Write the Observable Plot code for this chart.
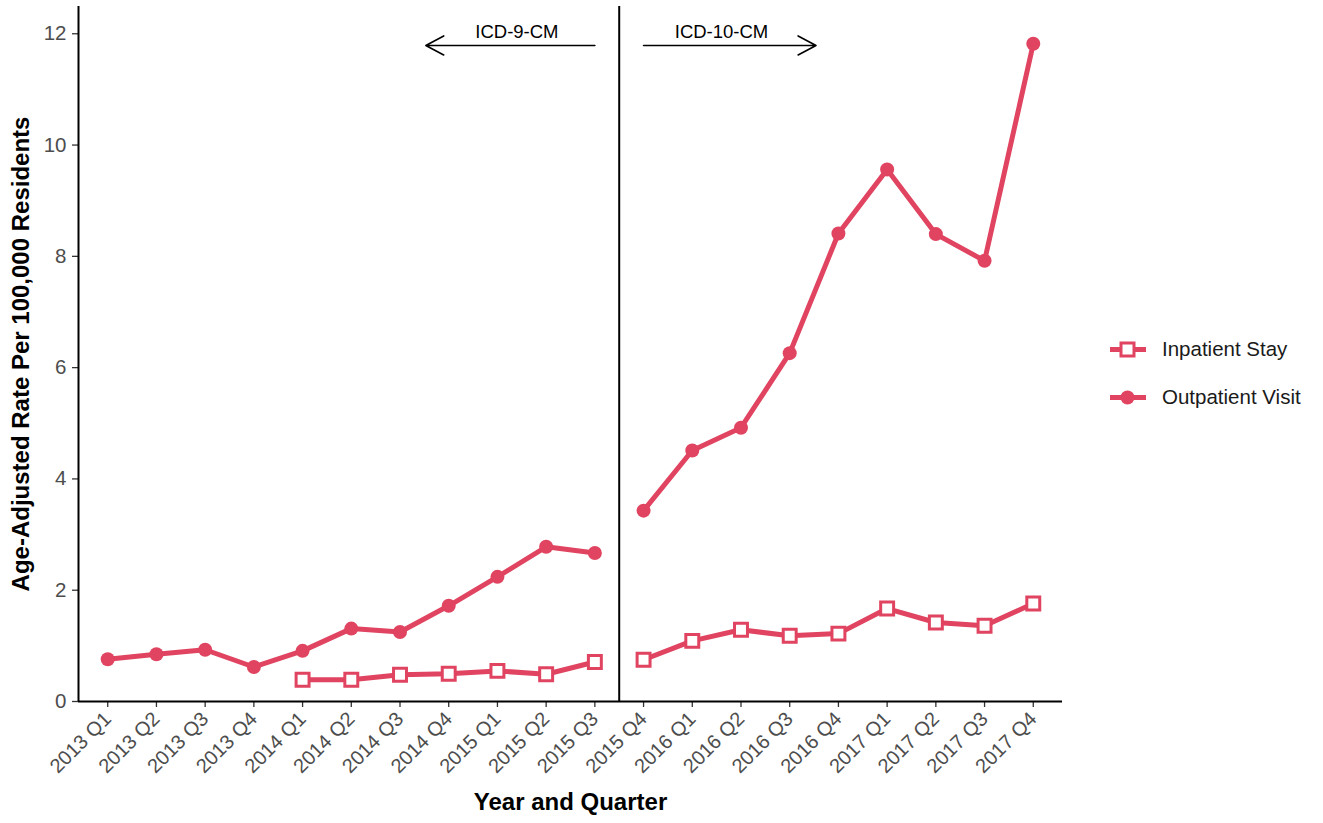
<!DOCTYPE html>
<html>
<head>
<meta charset="utf-8">
<script src="https://cdn.jsdelivr.net/npm/d3@7"></script>
<script src="https://cdn.jsdelivr.net/npm/@observablehq/plot@0.6"></script>
<style>
  html, body { margin: 0; padding: 0; background: #fff; }
  #wrap { position: relative; width: 1323px; height: 823px; font-family: "Liberation Sans", Arial, sans-serif; }
  #legend { position: absolute; left: 1108px; top: 334px; font-size: 20.5px; color: #1a1a1a; }
  .item { display: flex; align-items: center; height: 30px; margin-bottom: 18px; }
  .item svg { margin-right: 14px; }
</style>
</head>
<body>
<div id="wrap"><div id="chart"></div><div id="legend"></div></div>
<script>
const quarters = ["2013 Q1","2013 Q2","2013 Q3","2013 Q4","2014 Q1","2014 Q2","2014 Q3","2014 Q4",
  "2015 Q1","2015 Q2","2015 Q3","2015 Q4","2016 Q1","2016 Q2","2016 Q3","2016 Q4",
  "2017 Q1","2017 Q2","2017 Q3","2017 Q4"];
const outpatient = [0.76,0.85,0.93,0.62,0.91,1.31,1.25,1.72,2.24,2.78,2.67,
  3.43,4.51,4.92,6.26,8.41,9.56,8.40,7.92,11.82];
const inpatient = [null,null,null,null,0.39,0.39,0.48,0.50,0.55,0.49,0.71,
  0.75,1.09,1.29,1.18,1.22,1.67,1.42,1.36,1.76];
const codingEra = quarters.map((q, i) => i <= 10 ? "ICD-9-CM" : "ICD-10-CM");
const seriesNames = ["Inpatient Stay", "Outpatient Visit"];
const yTicks = [0, 2, 4, 6, 8, 10, 12];
// annotation arrows (x in quarter index units, y in rate units)
const arrowLabels = ["ICD-9-CM", "ICD-10-CM"];
const arrowFrom = [10, 11];
const arrowTo = [6.53, 14.54];
const arrowY = 11.79;
const labelX = [8.4, 12.6];
const labelY = 12.03;
const transitionAt = 10.5;

const color = "#E04460";

const rows = [];
quarters.forEach((q, i) => {
  if (inpatient[i] != null) rows.push({i, q, value: inpatient[i], series: seriesNames[0], era: codingEra[i]});
  if (outpatient[i] != null) rows.push({i, q, value: outpatient[i], series: seriesNames[1], era: codingEra[i]});
});
const arrows = arrowLabels.map((l, k) => ({label: l, x1: arrowFrom[k], x2: arrowTo[k], y: arrowY, lx: labelX[k], ly: labelY}));

const chart = Plot.plot({
  width: 1323,
  height: 823,
  marginLeft: 78,
  marginRight: 261,
  marginTop: 6,
  marginBottom: 122,
  style: {fontFamily: "Liberation Sans, Arial, sans-serif", background: "#fff"},
  x: {domain: [-0.6, quarters.length - 0.4]},
  y: {domain: [0, 12.49]},
  marks: [
    Plot.axisY({ticks: yTicks, tickSize: 6, tickPadding: 6, fontSize: 20.5, color: "#4d4d4d", stroke: "#333", strokeWidth: 1.3, label: null}),
    Plot.axisX({ticks: d3.range(quarters.length), tickFormat: i => quarters[i], tickRotate: -45, tickSize: 6, tickPadding: 8, fontSize: 20, color: "#4d4d4d", stroke: "#333", strokeWidth: 1.3, label: null}),
    Plot.ruleY([0], {stroke: "#000", strokeWidth: 2}),
    Plot.ruleX([-0.6], {stroke: "#000", strokeWidth: 2}),
    Plot.ruleX([transitionAt], {stroke: "#000", strokeWidth: 2}),
    Plot.arrow(arrows, {x1: "x1", x2: "x2", y1: "y", y2: "y", stroke: "#000", strokeWidth: 1.6, headLength: 19, headAngle: 56}),
    Plot.text(arrows, {x: "lx", y: "ly", text: "label", fontSize: 18.5, fill: "#000"}),
    Plot.line(rows, {x: "i", y: "value", z: d => d.series + d.era, stroke: color, strokeWidth: 5}),
    Plot.dot(rows.filter(d => d.series === seriesNames[1]), {x: "i", y: "value", r: 7, fill: color, stroke: "none", symbol: "circle"}),
    Plot.dot(rows.filter(d => d.series === seriesNames[0]), {x: "i", y: "value", r: 7.3, fill: "#fff", stroke: color, strokeWidth: 3, symbol: "square"}),
    Plot.text(["Year and Quarter"], {frameAnchor: "bottom", dy: 108, fontSize: 24, fontWeight: "bold", fill: "#000"}),
    Plot.text(["Age-Adjusted Rate Per 100,000 Residents"], {frameAnchor: "left", dx: -57, rotate: -90, textAnchor: "middle", lineAnchor: "middle", fontSize: 24, fontWeight: "bold", fill: "#000"})
  ]
});
document.getElementById("chart").appendChild(chart);

const legend = document.getElementById("legend");
seriesNames.forEach((name, k) => {
  const item = document.createElement("div");
  item.className = "item";
  const marker = k === 0
    ? `<rect x="13" y="8" width="13" height="13" fill="#fff" stroke="${color}" stroke-width="3"/>`
    : `<circle cx="19.5" cy="14.5" r="7" fill="${color}"/>`;
  item.innerHTML = `<svg width="40" height="29"><line x1="2" x2="38" y1="14.5" y2="14.5" stroke="${color}" stroke-width="5"/>${marker}</svg><span>${name}</span>`;
  legend.appendChild(item);
});
</script>
</body>
</html>
